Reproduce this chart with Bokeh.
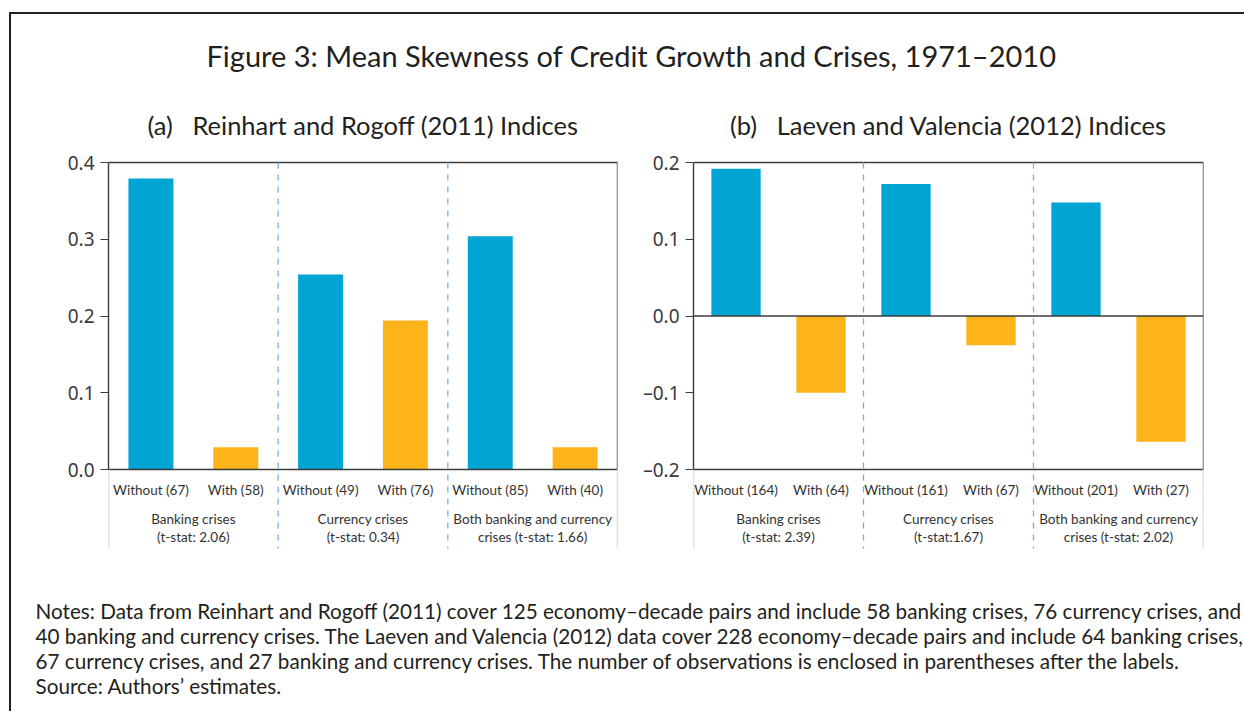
from bokeh.plotting import figure
from bokeh.models import Range1d, FixedTicker, CustomJSTickFormatter
from bokeh.layouts import column, row
from bokeh.embed import file_html
from bokeh.resources import INLINE
from bokeh.core.properties import value

# ---------------- data ----------------
title_text = "Figure 3: Mean Skewness of Credit Growth and Crises, 1971\u20132010"
sub_a = "(a)\u00a0\u00a0\u00a0Reinhart and Rogoff (2011) Indices"
sub_b = "(b)\u00a0\u00a0\u00a0Laeven and Valencia (2012) Indices"

a_groups = ["Banking crises\n(t-stat: 2.06)",
            "Currency crises\n(t-stat: 0.34)",
            "Both banking and currency\ncrises (t-stat: 1.66)"]
a_labels = ["Without (67)", "With (58)", "Without (49)", "With (76)", "Without (85)", "With (40)"]
a_without = [0.379, 0.254, 0.304]
a_with = [0.029, 0.194, 0.029]
a_ticks = [0.0, 0.1, 0.2, 0.3, 0.4]

b_groups = ["Banking crises\n(t-stat: 2.39)",
            "Currency crises\n(t-stat:1.67)",
            "Both banking and currency\ncrises (t-stat: 2.02)"]
b_labels = ["Without (164)", "With (64)", "Without (161)", "With (67)", "Without (201)", "With (27)"]
b_without = [0.192, 0.172, 0.148]
b_with = [-0.100, -0.038, -0.164]
b_ticks = [-0.2, -0.1, 0.0, 0.1, 0.2]

notes = [
    "Notes: Data from Reinhart and Rogoff (2011) cover 125 economy\u2013decade pairs and include 58 banking crises, 76 currency crises, and",
    "40 banking and currency crises. The Laeven and Valencia (2012) data cover 228 economy\u2013decade pairs and include 64 banking crises,",
    "67 currency crises, and 27 banking and currency crises. The number of observations is enclosed in parentheses after the labels.",
    "Source: Authors\u2019 estimates.",
]

# ---------------- style ----------------
BLUE = "#00A5D3"
ORANGE = "#FDB31A"
DARK = "#231f20"
AXIS = "#3c3c3c"
DIV = "#7AAEDD"
GRAY = "#c9c9c9"
FONT = value("Lato")

# page geometry (pixels); page origin is the window's top-left
ML, MT, BW = 9, 12, 2          # outer box offset and border width
X0, Y0 = ML + BW, MT + BW       # content origin
PANEL_TOP, PANEL_BOT = 100, 570
FR_TOP, FR_BOT = 162, 469
LAB_Y, G1_Y, G2_Y, LOW_Y, SUB_Y = 489, 518, 536, 548, 124
PAGE_W, PAGE_B = 1244, 711


def make_panel(labels, groups, without, with_, ticks, lo, hi,
               canvas_l, frame_l, frame_r, canvas_r, bw, subtitle):
    px = (FR_BOT - FR_TOP) / (hi - lo)

    def yv(py):
        return hi - (py - FR_TOP) / px

    n = len(labels)
    p = figure(width=canvas_r - canvas_l, height=PANEL_BOT - PANEL_TOP,
               x_range=Range1d(0, n),
               y_range=Range1d(yv(PANEL_BOT), yv(PANEL_TOP)),
               min_border_left=frame_l - canvas_l, min_border_right=canvas_r - frame_r,
               min_border_top=0, min_border_bottom=0,
               toolbar_location=None, output_backend="svg",
               x_axis_location=None)
    p.grid.visible = False
    p.outline_line_color = None
    p.background_fill_color = "white"
    p.border_fill_color = "white"

    ax = p.yaxis[0]
    ax.ticker = FixedTicker(ticks=ticks)
    ax.bounds = (lo, hi)
    ax.formatter = CustomJSTickFormatter(
        code="return (tick < -1e-9 ? '\u2013' + Math.abs(tick).toFixed(1) : Math.abs(tick).toFixed(1));")
    ax.axis_line_color = AXIS
    ax.axis_line_width = 1.4
    ax.major_tick_line_color = AXIS
    ax.major_tick_line_width = 1.2
    ax.major_tick_out = 8
    ax.major_tick_in = 0
    ax.minor_tick_line_color = None
    ax.major_label_text_font = "Noto Sans"
    ax.major_label_text_font_size = "19px"
    ax.major_label_text_color = "#3a3a3a"
    ax.major_label_standoff = 6

    xs_without = [2 * i + 0.5 for i in range(len(without))]
    xs_with = [2 * i + 1.5 for i in range(len(with_))]
    p.vbar(x=xs_without, top=without, bottom=0, width=bw, fill_color=BLUE, line_color=None)
    p.vbar(x=xs_with, top=with_, bottom=0, width=bw, fill_color=ORANGE, line_color=None)

    # frame box
    p.segment(x0=[0, 0, n], y0=[hi, lo, lo], x1=[n, n, n], y1=[hi, lo, hi],
              line_color=AXIS, line_width=1.4)
    if lo < 0 < hi:
        p.segment(x0=[0], y0=[0], x1=[n], y1=[0], line_color=AXIS, line_width=1.3)
    # gray bracket under axis
    p.segment(x0=[0, n], y0=[lo, lo], x1=[0, n], y1=[yv(LOW_Y)] * 2,
              line_color=GRAY, line_width=1.5)
    # dashed group dividers
    ng = len(groups)
    divs = [2 * i for i in range(1, ng)]
    p.segment(x0=divs, y0=[hi] * len(divs), x1=divs, y1=[yv(LOW_Y)] * len(divs),
              line_color=DIV, line_width=1.3, line_dash="6 6")

    # category labels
    p.text(x=[i + 0.5 for i in range(n)], y=[yv(LAB_Y)] * n, text=labels,
           text_font=FONT, text_font_size="13.5px", text_color="#333333",
           text_align="center", text_baseline="middle")
    gx = [2 * i + 1 for i in range(ng)]
    l1 = [g.split("\n")[0] for g in groups]
    l2 = [g.split("\n")[1] for g in groups]
    p.text(x=gx, y=[yv(G1_Y)] * ng, text=l1, text_font=FONT, text_font_size="13.5px",
           text_color="#333333", text_align="center", text_baseline="middle")
    p.text(x=gx, y=[yv(G2_Y)] * ng, text=l2, text_font=FONT, text_font_size="13.5px",
           text_color="#333333", text_align="center", text_baseline="middle")

    # subtitle
    p.text(x=[n / 2], y=[yv(SUB_Y)], text=[subtitle], text_font=FONT,
           text_font_size="25.5px", text_color=DARK, text_align="center",
           text_baseline="middle")
    return p


pa = make_panel(a_labels, a_groups, a_without, a_with, a_ticks, 0.0, 0.4,
                X0, 108, 617, 626, 0.53, sub_a)
pb = make_panel(b_labels, b_groups, b_without, b_with, b_ticks, -0.2, 0.2,
                626, 693, 1203, PAGE_W, 0.58, sub_b)


def text_fig(top, bot):
    f = figure(width=PAGE_W - X0, height=bot - top,
               x_range=Range1d(X0, PAGE_W), y_range=Range1d(bot, top),
               min_border=0, toolbar_location=None, output_backend="svg",
               x_axis_location=None, y_axis_location=None)
    f.grid.visible = False
    f.outline_line_color = None
    return f


header = text_fig(Y0, PANEL_TOP)
header.text(x=[631], y=[55], text=[title_text], text_font=FONT,
            text_font_size="29px", text_color=DARK, text_align="center",
            text_baseline="middle")

footer = text_fig(PANEL_BOT, PAGE_B)
footer.text(x=[35] * len(notes), y=[610 + 25 * i for i in range(len(notes))], text=notes,
            text_font=FONT, text_font_size="20.7px", text_color=DARK,
            text_align="left", text_baseline="middle")

layout = column(header, row(pa, pb, spacing=0), footer, spacing=0,
                styles={"margin-left": f"{ML}px", "margin-top": f"{MT}px",
                        "border-top": f"{BW}px solid #231f20",
                        "border-left": f"{BW}px solid #231f20"})

open("out.html", "w").write(file_html(layout, INLINE))
